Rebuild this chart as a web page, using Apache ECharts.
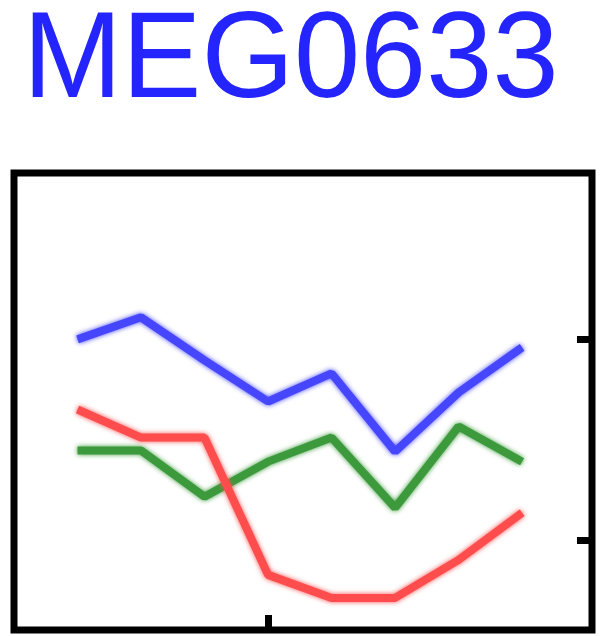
<!DOCTYPE html>
<html>
<head>
<meta charset="utf-8">
<script src="https://cdn.jsdelivr.net/npm/echarts@6/dist/echarts.min.js"></script>
<style>
  html, body { margin: 0; padding: 0; background: #ffffff; }
  #chart { width: 600px; height: 636px; }
</style>
</head>
<body>
<div id="chart"></div>
<script>
// Sensor MEG0633: averaged response of three conditions (time in ms)
const sensorName = 'MEG0633';
const times = [-150, -100, -50, 0, 50, 100, 150, 200];
const blueVals = [100, 111, 89.5, 69, 83, 44, 73.5, 96];
const greenVals = [44.5, 44.5, 21.5, 39, 51, 16, 56.5, 39];
const redVals = [65, 51, 51, -17.5, -29, -29, -10, 13.5];
const xTicks = [0];
const yTicks = [0, 100];

function pairs(vals) {
  return times.map((t, i) => [t, vals[i]]);
}

function lineSeries(vals, color) {
  return {
    type: 'line',
    data: pairs(vals),
    symbol: 'none',
    smooth: false,
    lineStyle: {
      color: color,
      width: 8,
      shadowColor: color,
      shadowBlur: 5
    },
    silent: true,
    animation: false
  };
}

const chart = echarts.init(document.getElementById('chart'), null, { renderer: 'canvas' });
chart.setOption({
  animation: false,
  backgroundColor: '#ffffff',
  graphic: [{
    type: 'text',
    x: 23,
    y: 2,
    scaleX: 0.975,
    style: {
      text: sensorName,
      font: '122px "Liberation Sans", Arial, sans-serif',
      fill: '#2424ff',
      textVerticalAlign: 'top'
    }
  }],
  grid: {
    show: true,
    left: 14,
    top: 173,
    right: 8,
    bottom: 6,
    borderColor: '#000000',
    borderWidth: 7,
    backgroundColor: '#ffffff'
  },
  xAxis: {
    type: 'value',
    min: -200,
    max: 255,
    axisLine: { show: false, onZero: false },
    splitLine: { show: false },
    axisLabel: { show: false },
    axisTick: {
      show: true,
      inside: true,
      length: 15,
      lineStyle: { color: '#000000', width: 7 },
      customValues: xTicks
    }
  },
  yAxis: {
    type: 'value',
    position: 'right',
    min: -45,
    max: 183,
    axisLine: { show: false, onZero: false },
    splitLine: { show: false },
    axisLabel: { show: false },
    axisTick: {
      show: true,
      inside: true,
      length: 15,
      lineStyle: { color: '#000000', width: 7 },
      customValues: yTicks
    }
  },
  series: [
    lineSeries(blueVals, '#4646ff'),
    lineSeries(greenVals, '#3c9a3c'),
    lineSeries(redVals, '#ff4c4c')
  ]
});
</script>
</body>
</html>
